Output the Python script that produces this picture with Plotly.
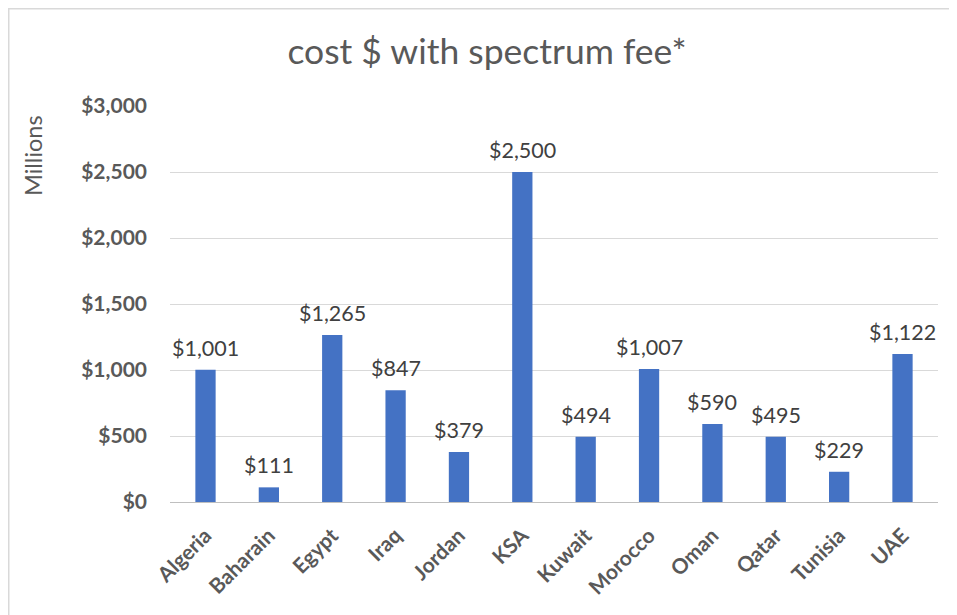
import plotly.graph_objects as go

countries = ["Algeria", "Baharain", "Egypt", "Iraq", "Jordan", "KSA", "Kuwait",
             "Morocco", "Oman", "Qatar", "Tunisia", "UAE"]
costs = [1001, 111, 1265, 847, 379, 2500, 494, 1007, 590, 495, 229, 1122]
y_ticks = [0, 500, 1000, 1500, 2000, 2500, 3000]
y_tick_labels = ["$0", "$500", "$1,000", "$1,500", "$2,000", "$2,500", "$3,000"]

OFF = 8  # default page body margin
W, H = 957 - OFF, 615 - OFF
L, T = 170 - OFF, 106 - OFF
R = W - (938 - OFF)
B = H - (502 - OFF)
pw = W - L - R
ph = H - T - B
FONT = "Lato"

fig = go.Figure(go.Bar(
    x=countries, y=costs,
    marker=dict(color="#4472C4", line=dict(width=0)),
    width=0.32,
    hovertemplate="%{x}: $%{y:,}<extra></extra>",
))

for c, v in zip(countries, costs):
    fig.add_annotation(x=c, y=v, text=f"${v:,}", showarrow=False,
                       xanchor="center", yanchor="bottom", yshift=7,
                       font=dict(family=FONT, size=21.5, color="#404040"))

fig.update_layout(
    width=W, height=H,
    margin=dict(l=L, r=R, t=T, b=B, autoexpand=False),
    paper_bgcolor="white", plot_bgcolor="white",
    showlegend=False,
    title=dict(text="cost $ with spectrum fee*", x=(487 - OFF) / W, xanchor="center",
               xref="container", y=1 - (52 - OFF) / H, yanchor="middle",
               font=dict(family=FONT, size=35.5, color="#595959")),
    xaxis=dict(
        tickangle=-45,
        tickfont=dict(family=FONT, size=21, color="#595959", weight="bold"),
        showgrid=False, showline=True, linecolor="#bfbfbf", linewidth=1,
        ticks="", ticklen=0, ticklabelstandoff=12,
    ),
    yaxis=dict(
        range=[0, 3000],
        tickvals=y_ticks, ticktext=y_tick_labels,
        tickfont=dict(family=FONT, size=21, color="#595959", weight="bold"),
        showgrid=True, gridcolor="#d9d9d9", gridwidth=1,
        zeroline=False, showline=False, ticks="", ticklabelstandoff=22,
    ),
)

fig.add_annotation(text="Millions", xref="paper", yref="paper",
                   x=(33 - 170) / pw, y=1 - (156 - 106) / ph, textangle=-90,
                   showarrow=False, xanchor="center", yanchor="middle",
                   font=dict(family=FONT, size=23.5, color="#595959"))

# figure border (top and left visible)
x0 = (0.75 - L) / pw
y1 = 1 + (T - 0.75) / ph
fig.add_shape(type="rect", xref="paper", yref="paper",
              x0=x0, x1=1 + (R + 20) / pw, y0=-(B + 20) / ph, y1=y1,
              line=dict(color="#d9d9d9", width=1.5), layer="below")

fig.write_html("out.html")
